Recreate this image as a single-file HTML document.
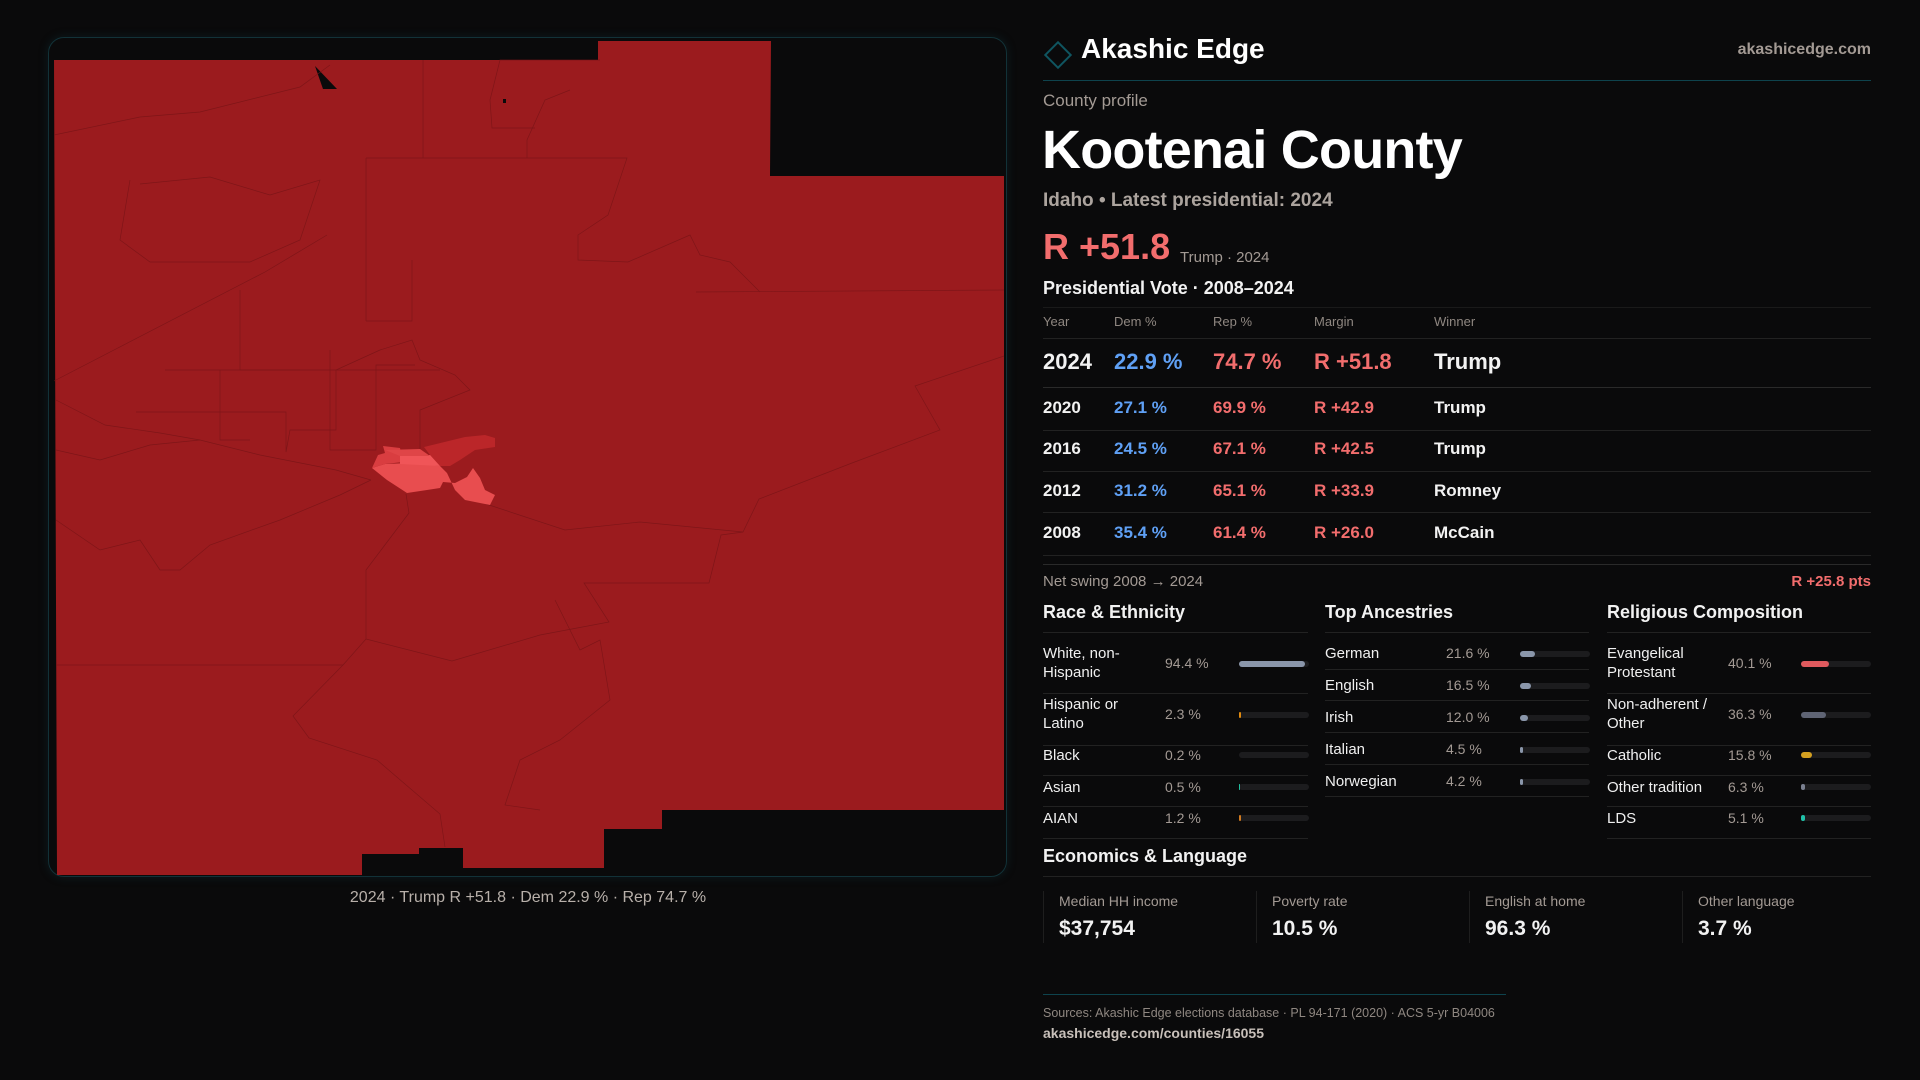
<!DOCTYPE html>
<html><head><meta charset="utf-8"><style>
*{margin:0;padding:0;box-sizing:border-box}
body{width:1920px;height:1080px;background:#0a0a0b;font-family:"Liberation Sans",sans-serif;color:#f2f2f2;position:relative;overflow:hidden}
.a{position:absolute;white-space:nowrap}
.g{color:#a39a94}
.hl{position:absolute;height:1px;background:#222}
.bar{position:absolute;height:6px;border-radius:3px;background:#1c1c1e}
.bar i{position:absolute;left:0;top:0;height:6px;border-radius:3px}
.c3{font-size:15px;color:#f0f0f0;line-height:19px}
.v{font-size:14px;color:#a39a94}
</style></head><body>
<div class="a" style="left:48px;top:37px;width:959px;height:840px;border:1px solid #123238;border-radius:16px;box-shadow:0 0 10px rgba(20,80,90,.25)"></div>
<svg class="a" style="left:0;top:0" width="1010" height="880">
<polygon fill="#9b1b1e" points="54,60 598,60 598,41 771,41 770,176 1004,176 1004,810 662,810 662,829 604,829 604,868 463,868 463,848 419,848 419,854 362,854 362,875 57,875"/>
<polygon fill="#0a0a0b" points="315,66 337,89 323,89"/>
<rect x="503" y="99" width="3" height="4" fill="#0a0a0b"/>
<g fill="none" stroke="#781417" stroke-width="0.7" opacity="0.8">
<polyline points="56,665 343,665 293,716 309,738 377,760 440,814 445,847"/>
<polyline points="343,665 366,639 366,570 409,513 406,494"/>
<polyline points="366,639 452,661 540,635 609,622 584,583 709,583 721,535 743,532 759,499 852,463 940,430 915,386 1004,356"/>
<polyline points="477,501 565,530 640,522 743,532"/>
<polyline points="696,292 1004,290"/>
<polyline points="54,381 265,272 327,235"/>
<polyline points="366,158 366,321"/>
<polyline points="366,158 627,158 608,215 578,235 578,260 628,262 690,235 700,255 730,262 760,292"/>
<polyline points="54,135 140,117 200,112 300,87 330,65"/>
<polyline points="140,184 210,177 270,195 320,180 300,240 250,262 150,262 120,240 130,180"/>
<polyline points="56,400 105,425 160,433 200,440 260,455 336,470 371,480"/>
<polyline points="56,450 100,460 150,445 200,440"/>
<polyline points="56,520 100,550 140,540 160,570 180,570 210,545 280,520 340,495 371,480"/>
<polyline points="136,412 286,412 286,452 290,430 336,430 336,370 380,350 412,340 420,360 455,375 470,390 420,410 420,455"/>
<polyline points="330,350 330,450 376,450 376,365 415,365"/>
<polyline points="165,370 440,370"/>
<polyline points="220,370 220,440 250,440"/>
<polyline points="240,290 240,370 300,370"/>
<polyline points="366,321 412,321 412,260"/>
<polyline points="600,60 500,60 490,100 492,128 535,128"/>
<polyline points="423,60 423,158"/>
<polyline points="527,158 527,140 545,100 570,90"/>
<polyline points="555,600 580,650 600,640 610,700 560,740 520,760 505,805 540,810"/>
</g>
<polygon fill="#e84d4f" points="372,468 387,480 407,493 427,490 440,488 443,482 455,483 467,477 473,468 480,478 485,490 495,495 490,505 465,500 455,490 447,473 440,466 410,463 385,464"/>
<polygon fill="#d93d40" points="372,468 378,455 385,453 383,446 400,448 403,462 385,464"/>
<polygon fill="#f05558" points="400,455 435,455 440,466 400,464"/>
<polygon fill="#df4547" points="385,450 420,449 430,456 400,456"/>
<polygon fill="#bb2629" points="424,447 465,437 485,435 495,438 495,447 475,450 460,460 450,466 440,466 430,455"/>
</svg>
<div class="a" style="left:0;width:1056px;top:889px;text-align:center;font-size:16px;color:#b8b0aa">2024 · Trump R +51.8 · Dem 22.9 % · Rep 74.7 %</div>

<div class="a" style="left:1048px;top:45px;width:20px;height:20px;border:2px solid #0f5560;transform:rotate(45deg)"></div>
<div class="a" style="left:1081px;top:33px;font-size:28px;font-weight:bold;color:#fff">Akashic Edge</div>
<div class="a g" style="right:49px;top:41px;font-size:16px;font-weight:bold">akashicedge.com</div>
<div class="hl" style="left:1043px;width:828px;top:80px;background:#0e434d"></div>
<div class="a g" style="left:1043px;top:91px;font-size:17px">County profile</div>
<div class="a" style="left:1042px;top:119px;font-size:54px;font-weight:bold;color:#fff;letter-spacing:-0.8px">Kootenai County</div>
<div class="a" style="left:1043px;top:190px;font-size:19px;color:#aca49e;font-weight:bold">Idaho • Latest presidential: 2024</div>
<div class="a" style="left:1043px;top:226px;font-size:36px;font-weight:bold;color:#f26d6d">R +51.8</div>
<div class="a g" style="left:1180px;top:249px;font-size:15px">Trump · 2024</div>
<div class="a" style="left:1043px;top:278px;font-size:18px;font-weight:bold">Presidential Vote · 2008–2024</div>
<div class="hl" style="left:1043px;width:828px;top:307px;background:#1a1a1a"></div>
<div class="a" style="left:1043px;top:314px;font-size:13px;color:#8f8781">Year</div>
<div class="a" style="left:1114px;top:314px;font-size:13px;color:#8f8781">Dem %</div>
<div class="a" style="left:1213px;top:314px;font-size:13px;color:#8f8781">Rep %</div>
<div class="a" style="left:1314px;top:314px;font-size:13px;color:#8f8781">Margin</div>
<div class="a" style="left:1434px;top:314px;font-size:13px;color:#8f8781">Winner</div>
<div class="hl" style="left:1043px;width:828px;top:338px"></div>
<div class="a" style="left:1043px;top:349px;font-size:22px;font-weight:bold"><span style="position:absolute;left:0">2024</span><span style="position:absolute;left:71px;color:#5fa0f5">22.9 %</span><span style="position:absolute;left:170px;color:#f26d6d">74.7 %</span><span style="position:absolute;left:271px;color:#f26d6d">R +51.8</span><span style="position:absolute;left:391px">Trump</span></div>
<div class="hl" style="left:1043px;width:828px;top:387px;background:#2a2a2a"></div>
<div class="a" style="left:1043px;top:398px;font-size:17px;font-weight:bold"><span style="position:absolute;left:0">2020</span><span style="position:absolute;left:71px;color:#5fa0f5">27.1 %</span><span style="position:absolute;left:170px;color:#f26d6d">69.9 %</span><span style="position:absolute;left:271px;color:#f26d6d">R +42.9</span><span style="position:absolute;left:391px">Trump</span></div>
<div class="hl" style="left:1043px;width:828px;top:430px"></div>
<div class="a" style="left:1043px;top:439px;font-size:17px;font-weight:bold"><span style="position:absolute;left:0">2016</span><span style="position:absolute;left:71px;color:#5fa0f5">24.5 %</span><span style="position:absolute;left:170px;color:#f26d6d">67.1 %</span><span style="position:absolute;left:271px;color:#f26d6d">R +42.5</span><span style="position:absolute;left:391px">Trump</span></div>
<div class="hl" style="left:1043px;width:828px;top:471px"></div>
<div class="a" style="left:1043px;top:481px;font-size:17px;font-weight:bold"><span style="position:absolute;left:0">2012</span><span style="position:absolute;left:71px;color:#5fa0f5">31.2 %</span><span style="position:absolute;left:170px;color:#f26d6d">65.1 %</span><span style="position:absolute;left:271px;color:#f26d6d">R +33.9</span><span style="position:absolute;left:391px">Romney</span></div>
<div class="hl" style="left:1043px;width:828px;top:512px"></div>
<div class="a" style="left:1043px;top:523px;font-size:17px;font-weight:bold"><span style="position:absolute;left:0">2008</span><span style="position:absolute;left:71px;color:#5fa0f5">35.4 %</span><span style="position:absolute;left:170px;color:#f26d6d">61.4 %</span><span style="position:absolute;left:271px;color:#f26d6d">R +26.0</span><span style="position:absolute;left:391px">McCain</span></div>
<div class="hl" style="left:1043px;width:828px;top:555px"></div>
<div class="hl" style="left:1043px;width:828px;top:564px;background:#2a2a2a"></div>
<div class="a g" style="left:1043px;top:573px;font-size:15px">Net swing 2008 → 2024</div>
<div class="a" style="right:49px;top:573px;font-size:15px;color:#f26d6d;font-weight:bold">R +25.8 pts</div>

<div class="a" style="left:1043px;top:602px;font-size:18px;font-weight:bold">Race &amp; Ethnicity</div>
<div class="a" style="left:1325px;top:602px;font-size:18px;font-weight:bold">Top Ancestries</div>
<div class="a" style="left:1607px;top:602px;font-size:18px;font-weight:bold">Religious Composition</div>
<div class="hl" style="left:1043px;width:265px;top:632px"></div>
<div class="hl" style="left:1325px;width:264px;top:632px"></div>
<div class="hl" style="left:1607px;width:264px;top:632px"></div>

<div class="a c3" style="left:1043px;top:644px">White, non-<br>Hispanic</div><div class="a v" style="left:1165px;top:655px">94.4 %</div><div class="bar" style="left:1239px;top:661px;width:70px"><i style="width:66px;background:#8a96aa"></i></div>
<div class="hl" style="left:1043px;width:265px;top:693px"></div>
<div class="a c3" style="left:1043px;top:695px">Hispanic or<br>Latino</div><div class="a v" style="left:1165px;top:706px">2.3 %</div><div class="bar" style="left:1239px;top:712px;width:70px"><i style="width:2px;background:#e08a10"></i></div>
<div class="hl" style="left:1043px;width:265px;top:745px"></div>
<div class="a c3" style="left:1043px;top:746px">Black</div><div class="a v" style="left:1165px;top:747px">0.2 %</div><div class="bar" style="left:1239px;top:752px;width:70px"></div>
<div class="hl" style="left:1043px;width:265px;top:775px"></div>
<div class="a c3" style="left:1043px;top:778px">Asian</div><div class="a v" style="left:1165px;top:779px">0.5 %</div><div class="bar" style="left:1239px;top:784px;width:70px"><i style="width:1px;background:#20c0a0"></i></div>
<div class="hl" style="left:1043px;width:265px;top:806px"></div>
<div class="a c3" style="left:1043px;top:809px">AIAN</div><div class="a v" style="left:1165px;top:810px">1.2 %</div><div class="bar" style="left:1239px;top:815px;width:70px"><i style="width:2px;background:#d07a20"></i></div>
<div class="hl" style="left:1043px;width:265px;top:838px"></div>

<div class="a c3" style="left:1325px;top:644px">German</div><div class="a v" style="left:1446px;top:645px">21.6 %</div><div class="bar" style="left:1520px;top:651px;width:70px"><i style="width:15px;background:#8a96aa"></i></div>
<div class="hl" style="left:1325px;width:264px;top:669px"></div>
<div class="a c3" style="left:1325px;top:676px">English</div><div class="a v" style="left:1446px;top:677px">16.5 %</div><div class="bar" style="left:1520px;top:683px;width:70px"><i style="width:11px;background:#8a96aa"></i></div>
<div class="hl" style="left:1325px;width:264px;top:700px"></div>
<div class="a c3" style="left:1325px;top:708px">Irish</div><div class="a v" style="left:1446px;top:709px">12.0 %</div><div class="bar" style="left:1520px;top:715px;width:70px"><i style="width:8px;background:#8a96aa"></i></div>
<div class="hl" style="left:1325px;width:264px;top:732px"></div>
<div class="a c3" style="left:1325px;top:740px">Italian</div><div class="a v" style="left:1446px;top:741px">4.5 %</div><div class="bar" style="left:1520px;top:747px;width:70px"><i style="width:3px;background:#8a96aa"></i></div>
<div class="hl" style="left:1325px;width:264px;top:764px"></div>
<div class="a c3" style="left:1325px;top:772px">Norwegian</div><div class="a v" style="left:1446px;top:773px">4.2 %</div><div class="bar" style="left:1520px;top:779px;width:70px"><i style="width:3px;background:#8a96aa"></i></div>
<div class="hl" style="left:1325px;width:264px;top:796px"></div>

<div class="a c3" style="left:1607px;top:644px">Evangelical<br>Protestant</div><div class="a v" style="left:1728px;top:655px">40.1 %</div><div class="bar" style="left:1801px;top:661px;width:70px"><i style="width:28px;background:#e05a5e"></i></div>
<div class="hl" style="left:1607px;width:264px;top:693px"></div>
<div class="a c3" style="left:1607px;top:695px">Non-adherent /<br>Other</div><div class="a v" style="left:1728px;top:706px">36.3 %</div><div class="bar" style="left:1801px;top:712px;width:70px"><i style="width:25px;background:#5f6474"></i></div>
<div class="hl" style="left:1607px;width:264px;top:745px"></div>
<div class="a c3" style="left:1607px;top:746px">Catholic</div><div class="a v" style="left:1728px;top:747px">15.8 %</div><div class="bar" style="left:1801px;top:752px;width:70px"><i style="width:11px;background:#d4a020"></i></div>
<div class="hl" style="left:1607px;width:264px;top:775px"></div>
<div class="a c3" style="left:1607px;top:778px">Other tradition</div><div class="a v" style="left:1728px;top:779px">6.3 %</div><div class="bar" style="left:1801px;top:784px;width:70px"><i style="width:4px;background:#7a8090"></i></div>
<div class="hl" style="left:1607px;width:264px;top:806px"></div>
<div class="a c3" style="left:1607px;top:809px">LDS</div><div class="a v" style="left:1728px;top:810px">5.1 %</div><div class="bar" style="left:1801px;top:815px;width:70px"><i style="width:4px;background:#20c0a8"></i></div>
<div class="hl" style="left:1607px;width:264px;top:838px"></div>

<div class="a" style="left:1043px;top:846px;font-size:18px;font-weight:bold">Economics &amp; Language</div>
<div class="hl" style="left:1043px;width:828px;top:876px"></div>
<div class="a" style="left:1043px;top:891px;width:1px;height:52px;background:#1e1e1e"></div>
<div class="a" style="left:1256px;top:891px;width:1px;height:52px;background:#1e1e1e"></div>
<div class="a" style="left:1469px;top:891px;width:1px;height:52px;background:#1e1e1e"></div>
<div class="a" style="left:1682px;top:891px;width:1px;height:52px;background:#1e1e1e"></div>
<div class="a g" style="left:1059px;top:893px;font-size:14px">Median HH income</div>
<div class="a" style="left:1059px;top:917px;font-size:21px;font-weight:bold">$37,754</div>
<div class="a g" style="left:1272px;top:893px;font-size:14px">Poverty rate</div>
<div class="a" style="left:1272px;top:917px;font-size:21px;font-weight:bold">10.5 %</div>
<div class="a g" style="left:1485px;top:893px;font-size:14px">English at home</div>
<div class="a" style="left:1485px;top:917px;font-size:21px;font-weight:bold">96.3 %</div>
<div class="a g" style="left:1698px;top:893px;font-size:14px">Other language</div>
<div class="a" style="left:1698px;top:917px;font-size:21px;font-weight:bold">3.7 %</div>

<div class="hl" style="left:1043px;width:463px;top:994px;background:#0e434d"></div>
<div class="a" style="left:1043px;top:1006px;font-size:12.5px;color:#8f8781">Sources: Akashic Edge elections database · PL 94-171 (2020) · ACS 5-yr B04006</div>
<div class="a" style="left:1043px;top:1025px;font-size:14px;color:#c8c0ba;font-weight:bold">akashicedge.com/counties/16055</div>
</body></html>
